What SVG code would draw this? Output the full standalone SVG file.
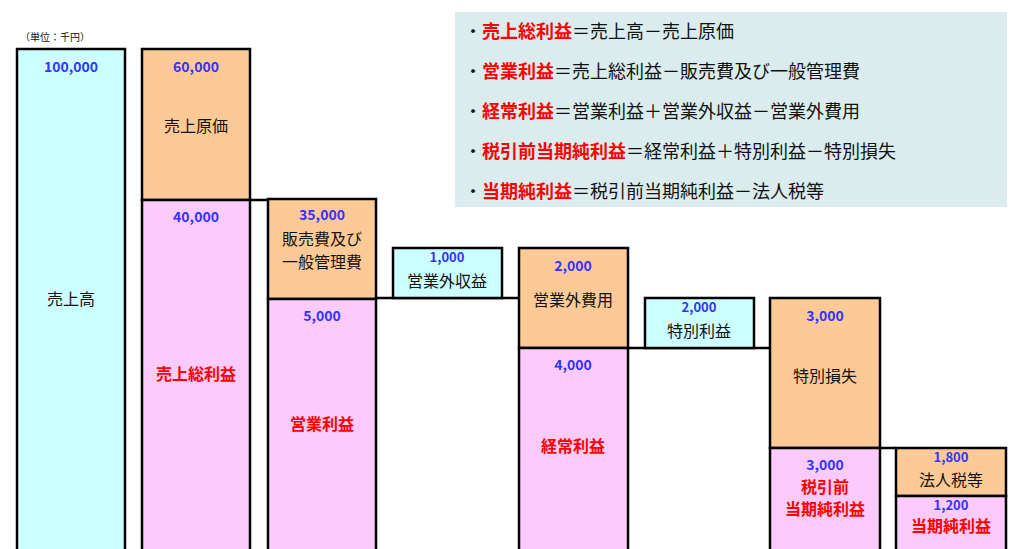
<svg xmlns="http://www.w3.org/2000/svg" width="1024" height="549" viewBox="0 0 1024 549">
<style>
rect.b{stroke:#000;stroke-width:2.5}
.c{fill:#ccffff}.o{fill:#fdca97}.p{fill:#fccbfc}
text{font-family:"Noto Sans CJK JP","Noto Sans",sans-serif;text-anchor:middle}
.n{fill:#3333ff;font-weight:bold;font-size:14px}
.s{fill:#3333ff;font-weight:bold;font-size:13px}
.t{fill:#111;font-size:16px}
.r{fill:#ff0000;font-weight:bold;font-size:16px}
.l{font-size:18px;text-anchor:start;fill:#111}
.l tspan.h{fill:#ff0000;font-weight:bold}
</style>
<rect x="455" y="12" width="552" height="195" fill="#daeced"/>
<text class="l" x="464" y="38">・<tspan class="h">売上総利益</tspan>＝売上高－売上原価</text>
<text class="l" x="464" y="78">・<tspan class="h">営業利益</tspan>＝売上総利益－販売費及び一般管理費</text>
<text class="l" x="464" y="118">・<tspan class="h">経常利益</tspan>＝営業利益＋営業外収益－営業外費用</text>
<text class="l" x="464" y="158">・<tspan class="h">税引前当期純利益</tspan>＝経常利益＋特別利益－特別損失</text>
<text class="l" x="464" y="198">・<tspan class="h">当期純利益</tspan>＝税引前当期純利益－法人税等</text>
<text x="55" y="41" style="font-size:10px;fill:#111">（単位：千円）</text>
<g id="connectors" stroke="#000" stroke-width="2.5">
<line x1="250" y1="200" x2="268" y2="200"/>
<line x1="376" y1="298" x2="519" y2="298"/>
<line x1="628" y1="348" x2="770" y2="348"/>
<line x1="880" y1="448" x2="896" y2="448"/>
</g>
<g id="bar1"><rect class="b c" x="17" y="49" width="108" height="502"/><text class="n" x="71" y="72">100,000</text><text class="t" x="71" y="305">売上高</text></g>
<g id="bar2"><rect class="b o" x="142" y="49" width="108" height="151"/><rect class="b p" x="142" y="200" width="108" height="351"/><text class="n" x="196" y="72">60,000</text><text class="t" x="196" y="132">売上原価</text><text class="n" x="196" y="222">40,000</text><text class="r" x="196" y="380">売上総利益</text></g>
<g id="bar3"><rect class="b o" x="268" y="199" width="108" height="100"/><rect class="b p" x="268" y="299" width="108" height="252"/><text class="n" x="322" y="220">35,000</text><text class="t" x="322" y="245">販売費及び</text><text class="t" x="322" y="268">一般管理費</text><text class="n" x="322" y="321">5,000</text><text class="r" x="322" y="430">営業利益</text></g>
<g id="bar4"><rect class="b c" x="393" y="248" width="109" height="50"/><text class="s" x="447" y="262">1,000</text><text class="t" x="447" y="287">営業外収益</text></g>
<g id="bar5"><rect class="b o" x="519" y="248" width="109" height="100"/><rect class="b p" x="519" y="348" width="109" height="203"/><text class="n" x="573" y="271">2,000</text><text class="t" x="573" y="306">営業外費用</text><text class="n" x="573" y="370">4,000</text><text class="r" x="573" y="452">経常利益</text></g>
<g id="bar6"><rect class="b c" x="645" y="298" width="109" height="50"/><text class="s" x="699" y="312">2,000</text><text class="t" x="699" y="337">特別利益</text></g>
<g id="bar7"><rect class="b o" x="770" y="298" width="110" height="150"/><rect class="b p" x="770" y="448" width="110" height="103"/><text class="n" x="825" y="321">3,000</text><text class="t" x="825" y="382">特別損失</text><text class="n" x="825" y="470">3,000</text><text class="r" x="825" y="493">税引前</text><text class="r" x="825" y="515">当期純利益</text></g>
<g id="bar8"><rect class="b o" x="896" y="448" width="110" height="48"/><rect class="b p" x="896" y="496" width="110" height="55"/><text class="s" x="951" y="462">1,800</text><text class="t" x="951" y="486">法人税等</text><text class="s" x="951" y="510">1,200</text><text class="r" x="951" y="532">当期純利益</text></g>
</svg>
